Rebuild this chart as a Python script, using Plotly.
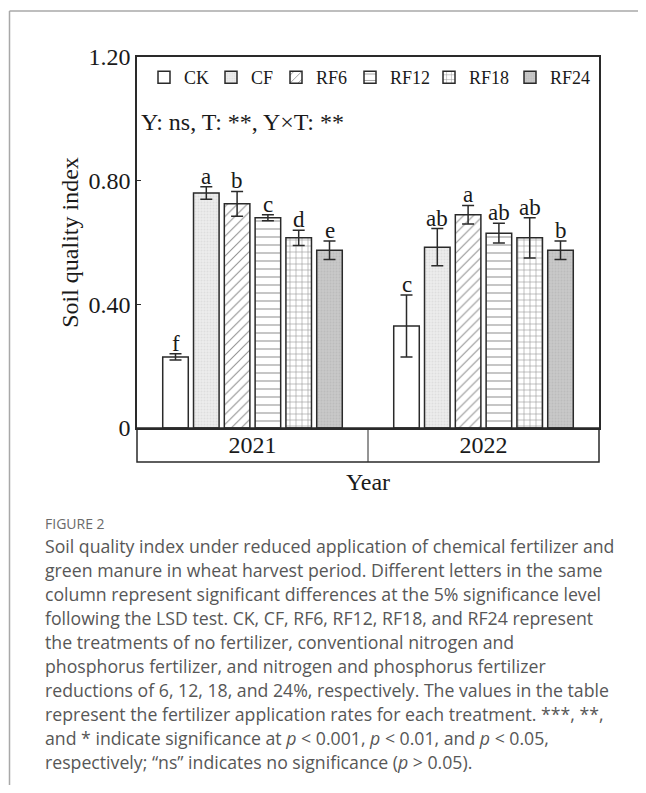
import plotly.graph_objects as go

years = ["2021", "2022"]
treatments = ["CK", "CF", "RF6", "RF12", "RF18", "RF24"]

sqi_mean = {
    "CK":   [0.23, 0.33],
    "CF":   [0.76, 0.585],
    "RF6":  [0.725, 0.69],
    "RF12": [0.68, 0.63],
    "RF18": [0.615, 0.615],
    "RF24": [0.575, 0.575],
}
sqi_err = {
    "CK":   [0.01, 0.10],
    "CF":   [0.02, 0.06],
    "RF6":  [0.04, 0.03],
    "RF12": [0.01, 0.032],
    "RF18": [0.025, 0.065],
    "RF24": [0.03, 0.03],
}
sig_letters = {
    "CK":   ["f", "c"],
    "CF":   ["a", "ab"],
    "RF6":  ["b", "a"],
    "RF12": ["c", "ab"],
    "RF18": ["d", "ab"],
    "RF24": ["e", "b"],
}

y_tickvals = [0, 0.4, 0.8, 1.2]
y_ticktext = ["0", "0.40", "0.80", "1.20"]

stats_text = "Y: ns, T: **, Y×T: **"

caption_head = "FIGURE 2"
caption_lines = [
    "Soil quality index under reduced application of chemical fertilizer and",
    "green manure in wheat harvest period. Different letters in the same",
    "column represent significant differences at the 5% significance level",
    "following the LSD test. CK, CF, RF6, RF12, RF18, and RF24 represent",
    "the treatments of no fertilizer, conventional nitrogen and",
    "phosphorus fertilizer, and nitrogen and phosphorus fertilizer",
    "reductions of 6, 12, 18, and 24%, respectively. The values in the table",
    "represent the fertilizer application rates for each treatment. ***, **,",
    "and * indicate significance at <i>p</i> &lt; 0.001, <i>p</i> &lt; 0.01, and <i>p</i> &lt; 0.05,",
    "respectively; “ns” indicates no significance (<i>p</i> &gt; 0.05).",
]

styles = {
    "CK":   dict(color="white", pattern=dict(shape="")),
    "CF":   dict(color="#e9e9e9", pattern=dict(shape=".", fgcolor="#d0d0d0", bgcolor="#ececec", size=3, solidity=0.3)),
    "RF6":  dict(color="white", pattern=dict(shape="/", fgcolor="#222", bgcolor="white", size=7, solidity=0.15)),
    "RF12": dict(color="white", pattern=dict(shape="-", fgcolor="#222", bgcolor="white", size=8, solidity=0.13)),
    "RF18": dict(color="white", pattern=dict(shape="+", fgcolor="#222", bgcolor="white", size=6, solidity=0.18)),
    "RF24": dict(color="#c4c4c4", pattern=dict(shape=".", fgcolor="#b0b0b0", bgcolor="#c8c8c8", size=3, solidity=0.3)),
}
legend_widths = {"CK": 22, "CF": 20, "RF6": 29, "RF12": 34, "RF18": 36, "RF24": 40}

SERIF = "Liberation Serif, Times New Roman, serif"
SANS = "Open Sans, Noto Sans, sans-serif"
FS = 24

fig = go.Figure()
for t in treatments:
    st = styles[t]
    fig.add_trace(go.Bar(
        name=t, x=years, y=sqi_mean[t],
        marker=dict(color=st["color"], pattern=st["pattern"],
                    line=dict(color="#2a2a2a", width=1.5)),
        error_y=dict(type="data", array=sqi_err[t], color="#2a2a2a", thickness=1.5, width=6),
        legendwidth=legend_widths[t],
    ))

BARGAP = 0.2
slot = (1 - BARGAP) / len(treatments)
annotations = []
for i, t in enumerate(treatments):
    for g, yr in enumerate(years):
        annotations.append(dict(
            x=g + (i - (len(treatments) - 1) / 2) * slot, xref="x",
            y=sqi_mean[t][g] + sqi_err[t][g], yref="y",
            text=sig_letters[t][g], showarrow=False, yanchor="bottom",
            yshift=-4, font=dict(family=SERIF, size=23, color="#1a1a1a"),
        ))

# page body has an 8px margin: figure origin sits at page (8, 8)
# paper-coordinate helpers from page pixels (plot area: x 137..599, y 57..428)
def px_x(p):
    return (p - 137) / 462.0

def px_y(p):
    return (428 - p) / 371.0

annotations.append(dict(
    x=px_x(139), y=px_y(122), xref="paper", yref="paper", xanchor="left", yanchor="middle",
    text=stats_text, showarrow=False, font=dict(family=SERIF, size=FS, color="#1a1a1a"),
))
annotations.append(dict(
    x=px_x(43), y=px_y(523), xref="paper", yref="paper", xanchor="left", yanchor="middle",
    text=caption_head, showarrow=False, font=dict(family=SANS, size=14, color="#6a6a6a"),
))
for k, line in enumerate(caption_lines):
    annotations.append(dict(
        x=px_x(43), y=px_y(546 + 24 * k), xref="paper", yref="paper", xanchor="left", yanchor="middle",
        text=line, showarrow=False, font=dict(family=SANS, size=17.7, color="#575757"),
    ))

shapes = [
    # category box under the axis
    dict(type="rect", xref="paper", yref="paper", x0=0, x1=1, y0=px_y(462), y1=0,
         line=dict(color="#2a2a2a", width=1.5)),
    dict(type="line", xref="x", yref="paper", x0=0.5, x1=0.5, y0=px_y(462), y1=0,
         line=dict(color="#2a2a2a", width=1)),
    # figure frame
    dict(type="line", xref="paper", yref="paper", x0=px_x(9.5), x1=px_x(660), y0=px_y(11), y1=px_y(11),
         line=dict(color="#a8a8a8", width=1.5)),
    dict(type="line", xref="paper", yref="paper", x0=px_x(9.5), x1=px_x(9.5), y0=px_y(11), y1=px_y(800),
         line=dict(color="#a8a8a8", width=1.5)),
]

W, H = 630, 777
fig.update_layout(
    width=W, height=H,
    margin=dict(l=137 - 8, r=8 + W - 599, t=57 - 8, b=8 + H - 428),
    paper_bgcolor="white", plot_bgcolor="white",
    barmode="group", bargap=BARGAP, bargroupgap=0.17,
    font=dict(family=SERIF, size=FS, color="#1a1a1a"),
    showlegend=True,
    legend=dict(orientation="h", x=px_x(144), y=px_y(59), xanchor="left", yanchor="top",
                font=dict(family=SERIF, size=18, color="#1a1a1a"),
                bgcolor="rgba(0,0,0,0)", itemwidth=30, tracegroupgap=0),
    annotations=annotations, shapes=shapes,
    xaxis=dict(type="category", range=[-0.5, 1.5], showline=True, mirror=True,
               linecolor="#2a2a2a", linewidth=1.5, ticks="", showgrid=False,
               tickfont=dict(family=SERIF, size=FS), ticklabelstandoff=-6,
               title=dict(text="Year", font=dict(family=SERIF, size=FS), standoff=17)),
    yaxis=dict(range=[0, 1.2], tickvals=y_tickvals, ticktext=y_ticktext,
               showline=True, mirror=True, linecolor="#2a2a2a", linewidth=1.5,
               ticks="inside", ticklen=4, tickcolor="#2a2a2a", showgrid=False, zeroline=False,
               tickfont=dict(family=SERIF, size=FS),
               title=dict(text="Soil quality index", font=dict(family=SERIF, size=FS), standoff=3)),
)

fig.write_html("out.html")
